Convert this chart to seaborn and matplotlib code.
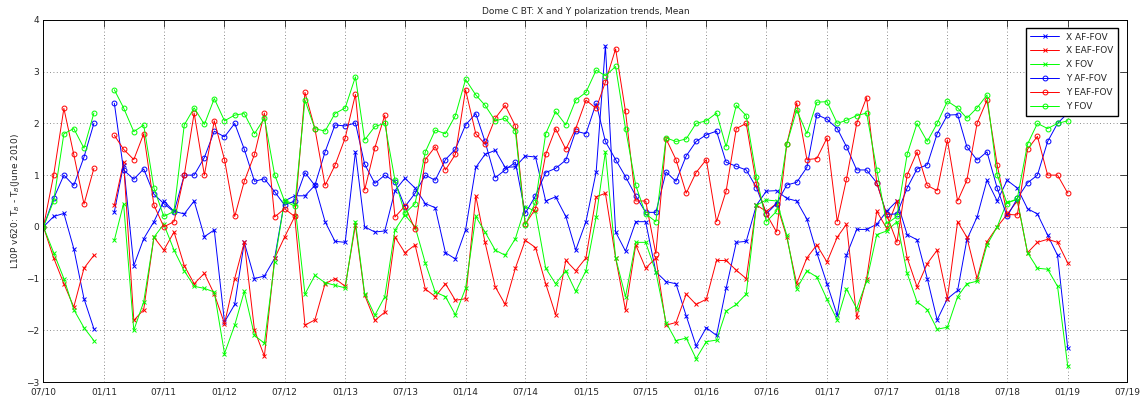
"""
Dome C brightness temperature trends (X and Y polarization), monthly means.
"""

import numpy as np
import pandas as pd
import matplotlib
matplotlib.use('Agg')
import matplotlib.pyplot as plt
import matplotlib.dates as mdates
import seaborn as sns

# 1. DATA (one per month, Jul 2010 - Jan 2019)
months = pd.date_range('2010-07-01', '2019-01-01', freq='MS')
gap_date = pd.Timestamp('2011-01-01')
nan = np.nan

x_af = [0, 0.2, 0.26, -0.42, -1.39, -1.97, nan, 0.29, 1.2, -0.75, -0.23, 0.1, 0.5, 0.3,
        0.25, 0.5, -0.19, -0.06, -1.84, -1.5, -0.3, -1.0, -0.95, -0.61, 0.5, 0.6, 0.6,
        0.8, 0.1, -0.28, -0.3, 1.45, 0.0, -0.1, -0.08, 0.7, 0.94, 0.75, 0.45, 0.37,
        -0.5, -0.62, -0.06, 1.15, 1.4, 1.48, 1.15, 1.16, 1.37, 1.35, 0.5, 0.58,
        0.2, -0.45, 0.1, 1.06, 3.5, -0.1, -0.47, 0.1, 0.1, -0.87, -1.06, -1.1, -1.72,
        -2.3, -1.95, -2.1, -1.19, -0.3, -0.28, 0.42, 0.69, 0.7, 0.55, 0.5, 0.15,
        -0.5, -1.1, -1.71, -0.55, -0.05, -0.05, 0.05, 0.3, 0.5, -0.15, -0.25, -1.0,
        -1.8, -1.39, -1.23, -0.25, 0.19, 0.9, 0.5, 0.9, 0.75, 0.35, 0.25, -0.16, -0.55, -2.35]
x_eaf = [0, -0.6, -1.1, -1.55, -0.8, -0.55, nan, 0.42, 1.25, -1.81, -1.6, -0.2, -0.45, -0.1,
         -0.75, -1.1, -0.9, -1.3, -1.87, -1.0, -0.3, -2.0, -2.5, -0.61, -0.2, 0.2, -1.9,
         -1.8, -1.1, -1.0, -1.15, 0.03, -1.32, -1.81, -1.65, -0.2, -0.5, -0.35, -1.2, -1.35,
         -1.1, -1.42, -1.39, 0.6, -0.3, -1.16, -1.5, -0.8, -0.26, -0.4, -1.1, -1.7,
         -0.65, -0.85, -0.6, 0.58, 0.65, -0.6, -1.61, -0.35, -0.8, -0.6, -1.9, -1.85, -1.3,
         -1.5, -1.4, -0.65, -0.65, -0.84, -1.0, 0.42, 0.3, 0.45, -0.2, -1.1, -0.6,
         -0.35, -0.68, -0.2, 0.05, -1.75, -1.0, 0.3, -0.03, 0.5, -0.6, -1.16, -0.71,
         -0.45, -1.39, 0.1, -0.2, -1.0, -0.29, 0.0, 0.24, 0.5, -0.5, -0.3, -0.24, -0.3, -0.7]
x_fov = [0, -0.5, -1.0, -1.6, -1.95, -2.2, nan, -0.26, 0.45, -2.0, -1.45, -0.2, 0.05, -0.45,
         -0.85, -1.15, -1.19, -1.26, -2.45, -1.9, -1.25, -2.1, -2.25, -0.68, 0.5, 0.45, -1.3,
         -0.94, -1.08, -1.13, -1.18, 0.1, -1.29, -1.71, -1.35, -0.06, 0.23, 0.0, -0.7, -1.26,
         -1.35, -1.7, -1.19, 0.2, -0.1, -0.45, -0.55, -0.23, 0.39, 0.3, -0.8, -1.1,
         -0.85, -1.25, -0.85, 0.19, 1.45, -0.6, -1.35, -0.3, -0.3, -0.87, -1.85, -2.2, -2.15,
         -2.55, -2.22, -2.19, -1.63, -1.5, -1.3, 0.42, 0.52, 0.5, -0.16, -1.2, -0.85,
         -0.97, -1.4, -1.8, -1.2, -1.58, -1.05, -0.15, -0.08, 0.1, -0.9, -1.45, -1.6,
         -1.98, -1.94, -1.35, -1.1, -1.05, -0.35, 0.0, 0.48, 0.52, -0.5, -0.8, -0.82, -1.15, -2.7]
y_af = [0, 0.55, 1.0, 0.8, 1.35, 2.0, nan, 2.39, 1.1, 0.92, 1.12, 0.63, 0.45, 0.29,
        1.0, 1.0, 1.34, 1.85, 1.74, 2.0, 1.5, 0.88, 0.93, 0.68, 0.42, 0.5, 1.05,
        0.8, 1.45, 1.97, 1.95, 2.01, 1.21, 0.84, 1.0, 0.87, 0.39, 0.65, 1.0, 0.9,
        1.3, 1.5, 1.97, 2.19, 1.65, 0.95, 1.1, 1.25, 0.26, 0.6, 1.05, 1.13,
        1.29, 1.85, 1.8, 2.39, 1.65, 1.3, 0.97, 0.6, 0.28, 0.28, 1.06, 0.88, 1.37,
        1.65, 1.78, 1.85, 1.25, 1.17, 1.1, 0.76, 0.25, 0.45, 0.81, 0.86, 1.15,
        2.17, 2.08, 1.9, 1.55, 1.1, 1.1, 0.85, 0.24, 0.25, 0.75, 1.12, 1.2,
        1.8, 2.16, 2.17, 1.55, 1.29, 1.45, 0.75, 0.2, 0.55, 0.85, 1.0, 1.65, 2.0, 2.2]
y_eaf = [0, 1.0, 2.29, 1.4, 0.44, 1.13, nan, 1.77, 1.5, 1.3, 1.8, 0.42, 0.0, 0.1,
         1.0, 2.2, 1.0, 2.05, 1.3, 0.2, 0.88, 1.4, 2.2, 0.19, 0.35, 0.2, 2.6,
         1.9, 0.8, 1.19, 1.72, 2.56, 0.71, 1.53, 2.16, 0.19, 0.4, -0.05, 1.3, 1.55,
         1.1, 1.4, 2.65, 1.8, 1.6, 2.1, 2.35, 1.95, 0.05, 0.35, 1.4, 1.9,
         1.5, 1.9, 2.45, 2.29, 2.8, 3.44, 2.23, 0.5, 0.5, -0.52, 1.7, 1.3, 0.65,
         1.05, 1.3, 0.1, 0.69, 1.9, 2.0, 0.82, 0.25, -0.1, 1.6, 2.4, 1.3,
         1.32, 1.72, 0.1, 0.92, 2.0, 2.5, 0.85, 0.23, -0.3, 1.0, 1.45, 0.8,
         0.7, 1.68, 0.5, 0.9, 2.0, 2.45, 1.2, 0.24, 0.23, 1.5, 1.75, 1.0, 1.0, 0.65]
y_fov = [0, 0.5, 1.8, 1.9, 1.52, 2.2, nan, 2.65, 2.3, 1.84, 1.97, 0.75, 0.2, 0.3,
         1.97, 2.3, 1.98, 2.48, 2.05, 2.16, 2.19, 1.8, 2.1, 1.01, 0.5, 0.4, 2.45,
         1.9, 1.85, 2.19, 2.3, 2.9, 1.68, 1.94, 2.0, 0.9, 0.26, 0.45, 1.45, 1.87,
         1.8, 2.15, 2.85, 2.55, 2.35, 2.05, 2.1, 1.85, 0.03, 0.48, 1.8, 2.23,
         1.97, 2.45, 2.6, 3.03, 2.92, 3.1, 1.9, 0.8, 0.25, 0.1, 1.72, 1.65, 1.7,
         2.0, 2.05, 2.2, 1.55, 2.35, 2.15, 0.97, 0.1, 0.3, 1.6, 2.26, 1.8,
         2.41, 2.42, 2.0, 2.06, 2.15, 2.2, 1.1, 0.06, 0.2, 1.4, 2.0, 1.65,
         2.0, 2.43, 2.3, 2.1, 2.3, 2.55, 1.0, 0.45, 0.55, 1.6, 2.0, 1.9, 2.0, 2.05]

series_names = ['X AF-FOV', 'X EAF-FOV', 'X FOV', 'Y AF-FOV', 'Y EAF-FOV', 'Y FOV']
series_vals = [x_af, x_eaf, x_fov, y_af, y_eaf, y_fov]
colors = ['#0000ff', '#ff0000', '#00ff00', '#0000ff', '#ff0000', '#00ff00']
markers = ['x', 'x', 'x', 'o', 'o', 'o']

# 2. PLOT
sns.set_style('white')
plt.rcParams['font.family'] = ['DejaVu Sans']
plt.rcParams['font.size'] = 6.5

fig = plt.figure(figsize=(11.43, 3.99), dpi=100)
ax = fig.add_axes([0.038, 0.0426, 0.9484, 0.9074])

for name, vals, color, marker in zip(series_names, series_vals, colors, markers):
    d = pd.DataFrame({'date': months, 'value': vals})
    d['seg'] = (d['date'] > gap_date).astype(int)
    d = d.dropna()
    sns.lineplot(data=d, x='date', y='value', units='seg', estimator=None, sort=False,
                 color=color, marker=marker, ms=3.5, mec=color, mfc='none', mew=0.7,
                 lw=0.7, label=name, ax=ax)

ax.set_xlim(pd.Timestamp('2010-07-01'), pd.Timestamp('2019-07-01'))
ax.set_ylim(-3, 4)
ax.set_yticks(range(-3, 5))
ax.xaxis.set_major_locator(mdates.MonthLocator(bymonth=[1, 7]))
ax.xaxis.set_major_formatter(mdates.DateFormatter('%m/%y'))
ax.tick_params(direction='in', top=True, right=True, length=5, width=0.6,
               labelsize=6.5)
ax.tick_params(axis='x', pad=4)
ax.tick_params(axis='y', pad=3)
ax.grid(True, linestyle=(0, (1, 3)), color='k', lw=0.6, alpha=0.6)
for s in ax.spines.values():
    s.set_color('k')
    s.set_linewidth(0.7)

ax.set_xlabel('')
ax.set_ylabel('L10P v620: T$_B$ - T$_B$(June 2010)', fontsize=6.5, labelpad=3)
ax.set_title('Dome C BT: X and Y polarization trends, Mean', fontsize=6.5, pad=4)

handles, labels = ax.get_legend_handles_labels()
uniq = dict(zip(labels, handles))
ax.legend([uniq[n] for n in series_names], series_names, loc='upper right',
          bbox_to_anchor=(1118 / 1143, 1 - 28 / 399), bbox_transform=fig.transFigure,
          borderaxespad=0, fontsize=6.5, fancybox=False, framealpha=1,
          edgecolor='k', handlelength=3.2, labelspacing=0.55, borderpad=0.5)

fig.savefig('out.png', dpi=100)
